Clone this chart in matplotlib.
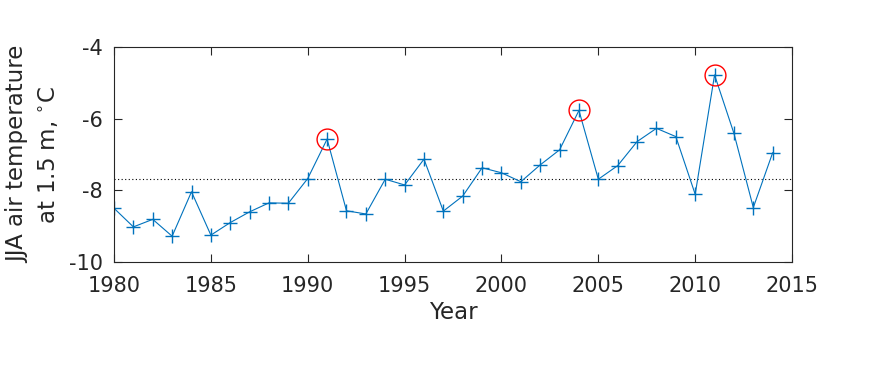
import matplotlib
matplotlib.use("Agg")
import matplotlib.pyplot as plt
import numpy as np

plt.rcParams["axes.unicode_minus"] = False

years = np.arange(1980, 2015)
temps = [-8.50, -9.02, -8.81, -9.28, -8.04, -9.25, -8.90, -8.60, -8.35, -8.36,
         -7.67, -6.57, -8.57, -8.66, -7.69, -7.85, -7.13, -8.58, -8.16, -7.37,
         -7.51, -7.76, -7.29, -6.87, -5.77, -7.69, -7.31, -6.64, -6.27, -6.50,
         -8.11, -4.78, -6.41, -8.48, -6.95]
peak_years = [1991, 2004, 2011]
mean_temp = -7.69

txt = "#262626"
blue = "#0072BD"

fig = plt.figure(figsize=(8.75, 3.65), dpi=100)
ax = fig.add_axes([0.1303, 0.2822, 0.7749, 0.589])

# dotted reference line (mean)
ax.axhline(mean_temp, color="black", linestyle=(0, (1, 2.2)), linewidth=0.8)
ax.plot(years, temps, color=blue, linewidth=0.8, marker="+", markersize=10,
        markeredgewidth=1.0)
peak_vals = [temps[list(years).index(y)] for y in peak_years]
ax.plot(peak_years, peak_vals, linestyle="none", marker="o", markersize=15,
        markerfacecolor="none", markeredgecolor="red", markeredgewidth=1.0)

ax.set_xlim(1980, 2015)
ax.set_ylim(-10, -4)
ax.set_xticks(np.arange(1980, 2016, 5))
ax.set_yticks(np.arange(-10, -3, 2))
ax.tick_params(direction="in", top=True, right=True, length=6, width=0.8,
               labelsize=15, colors=txt, labelcolor=txt)
ax.tick_params(axis="x", pad=10)
ax.tick_params(axis="y", pad=8)
for s in ax.spines.values():
    s.set_color(txt)
    s.set_linewidth(0.8)

ax.set_xlabel("Year", fontsize=16.5, color=txt, labelpad=4)
ax.set_ylabel("JJA air temperature\nat 1.5 m, $^{\\circ}$C", fontsize=16.5,
              color=txt, linespacing=1.4, labelpad=6)

fig.savefig("out.png", dpi=100)
